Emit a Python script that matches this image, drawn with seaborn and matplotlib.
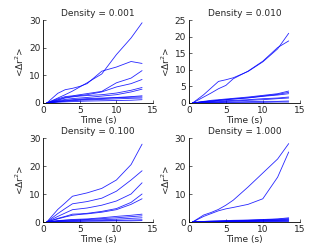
import pandas as pd
import numpy as np
import matplotlib
matplotlib.use('Agg')
import matplotlib.pyplot as plt
import seaborn as sns

sns.set_style('white')
plt.rcParams['font.family'] = ['DejaVu Sans']

# Time grid (s) shared by all curves
time = [0.5, 2, 3, 4, 5, 6, 8, 10, 12, 13.5]

densities = ['0.001', '0.010', '0.100', '1.000']
ylims = [30, 25, 30, 30]
yticks = [[0, 10, 20, 30], [0, 5, 10, 15, 20, 25], [0, 10, 20, 30], [0, 10, 20, 30]]

# <dr^2> curves, one list per particle
msd_0001 = [
    [0, 1.8, 3, 4.3, 5.8, 7.3, 10.5, 17.5, 23.5, 29],
    [0, 3.5, 4.8, 5.3, 6, 7, 11.5, 13, 15, 14.3],
    [0, 1.5, 2.3, 2.6, 3, 3.4, 4.2, 7.3, 9, 11.7],
    [0, 1.2, 2, 2.4, 2.7, 3, 4, 5.8, 7, 8.5],
    [0, 1, 1.8, 2.2, 2.5, 2.7, 3, 3.6, 4.6, 5.6],
    [0, 0.8, 1.3, 1.6, 1.8, 2, 2.5, 3, 4, 5],
    [0, 0.6, 1, 1.2, 1.4, 1.6, 1.8, 2, 2.3, 2.6],
    [0, 0.5, 0.8, 1, 1.2, 1.3, 1.6, 1.9, 2.1, 2.2],
    [0, 0.4, 0.6, 0.8, 1, 1.1, 1.3, 1.5, 1.7, 1.8],
    [0, 0.3, 0.4, 0.5, 0.6, 0.7, 0.8, 0.9, 1.0, 1.2],
]
msd_0010 = [
    [0, 2.5, 4.5, 6.5, 7, 7.6, 9.5, 12.4, 16.3, 21],
    [0, 1.8, 3, 4.3, 5.3, 7.3, 9.6, 12.6, 16.7, 18.7],
    [0, 0.5, 0.8, 1.0, 1.2, 1.4, 1.8, 2.3, 2.8, 3.6],
    [0, 0.4, 0.6, 0.8, 1.0, 1.2, 1.6, 2.1, 2.6, 3.2],
    [0, 0.4, 0.6, 0.8, 1.0, 1.2, 1.5, 2.0, 2.4, 2.8],
    [0, 0.3, 0.4, 0.6, 0.7, 0.8, 1.0, 1.3, 1.5, 1.8],
    [0, 0.2, 0.3, 0.4, 0.5, 0.6, 0.8, 1.0, 1.3, 1.5],
    [0, 0.1, 0.2, 0.2, 0.3, 0.3, 0.4, 0.5, 0.5, 0.6],
    [0, 0.1, 0.1, 0.1, 0.2, 0.2, 0.2, 0.2, 0.3, 0.3],
]
msd_0100 = [
    [0, 4.5, 6.8, 9.2, 9.8, 10.4, 12, 15, 20.5, 27.8],
    [0, 3, 4.8, 6.5, 6.9, 7.3, 8.5, 11, 15, 18.3],
    [0, 2, 3.2, 4.4, 4.7, 5, 6, 7.5, 10, 14],
    [0, 1.3, 2, 2.8, 2.9, 3.1, 3.8, 4.8, 7, 10],
    [0, 1.1, 1.8, 2.4, 2.7, 2.9, 3.5, 4.4, 6.3, 8.3],
    [0, 0.5, 0.7, 0.9, 1.0, 1.1, 1.5, 2.0, 2.4, 2.8],
    [0, 0.4, 0.6, 0.7, 0.8, 0.9, 1.2, 1.5, 1.9, 2.2],
    [0, 0.3, 0.4, 0.5, 0.6, 0.7, 0.8, 1.0, 1.3, 1.5],
    [0, 0.2, 0.3, 0.3, 0.4, 0.4, 0.5, 0.6, 0.7, 0.8],
    [0, 0.1, 0.2, 0.2, 0.2, 0.3, 0.3, 0.4, 0.4, 0.5],
]
msd_1000 = [
    [0, 2.5, 3.4, 4.5, 6, 7.8, 12.5, 17.5, 22.5, 28],
    [0, 2, 3, 4, 4.7, 5.2, 6.3, 8.3, 16, 25],
    [0, 0.2, 0.3, 0.4, 0.5, 0.6, 0.7, 0.9, 1.1, 1.5],
    [0, 0.2, 0.3, 0.3, 0.4, 0.5, 0.6, 0.8, 1.0, 1.2],
    [0, 0.1, 0.2, 0.3, 0.3, 0.4, 0.5, 0.6, 0.8, 1.0],
    [0, 0.1, 0.2, 0.2, 0.3, 0.3, 0.4, 0.5, 0.6, 0.8],
    [0, 0.1, 0.1, 0.2, 0.2, 0.2, 0.3, 0.4, 0.5, 0.6],
    [0, 0.1, 0.1, 0.1, 0.1, 0.2, 0.2, 0.3, 0.3, 0.4],
    [0, 0.0, 0.1, 0.1, 0.1, 0.1, 0.1, 0.2, 0.2, 0.2],
]
all_msd = [msd_0001, msd_0010, msd_0100, msd_1000]

# axes rectangles (left, bottom, width, height) in figure fractions
positions = [
    [0.130, 0.588, 0.331, 0.332],
    [0.569, 0.588, 0.334, 0.332],
    [0.130, 0.112, 0.331, 0.336],
    [0.569, 0.112, 0.334, 0.336],
]

fig = plt.figure(figsize=(3.32, 2.5), dpi=100)

for k in range(4):
    rows = []
    for i, curve in enumerate(all_msd[k]):
        for t, v in zip(time, curve):
            rows.append({'time': t, 'msd': v, 'particle': i})
    df = pd.DataFrame(rows)

    ax = fig.add_axes(positions[k])
    n = df['particle'].nunique()
    sns.lineplot(data=df, x='time', y='msd', hue='particle',
                 palette=['#0000ff'] * n, linewidth=0.6, alpha=0.85,
                 legend=False, ax=ax)
    ax.set_xlim(0, 15)
    ax.set_ylim(0, ylims[k])
    ax.set_xticks([0, 5, 10, 15])
    ax.set_yticks(yticks[k])
    ax.set_title('Density = ' + densities[k], fontsize=6.5, pad=3)
    ax.set_xlabel('Time (s)', fontsize=6.5, labelpad=1)
    ax.set_ylabel(r'<$\Delta$r$^2$>', fontsize=6.5, labelpad=2)
    ax.tick_params(direction='in', length=2, width=0.5, labelsize=6.5, pad=2,
                   bottom=True, left=True)
    for side in ['top', 'right']:
        ax.spines[side].set_visible(False)
    for side in ['left', 'bottom']:
        ax.spines[side].set_linewidth(0.6)
        ax.spines[side].set_color('black')

fig.savefig('out.png', dpi=100)
